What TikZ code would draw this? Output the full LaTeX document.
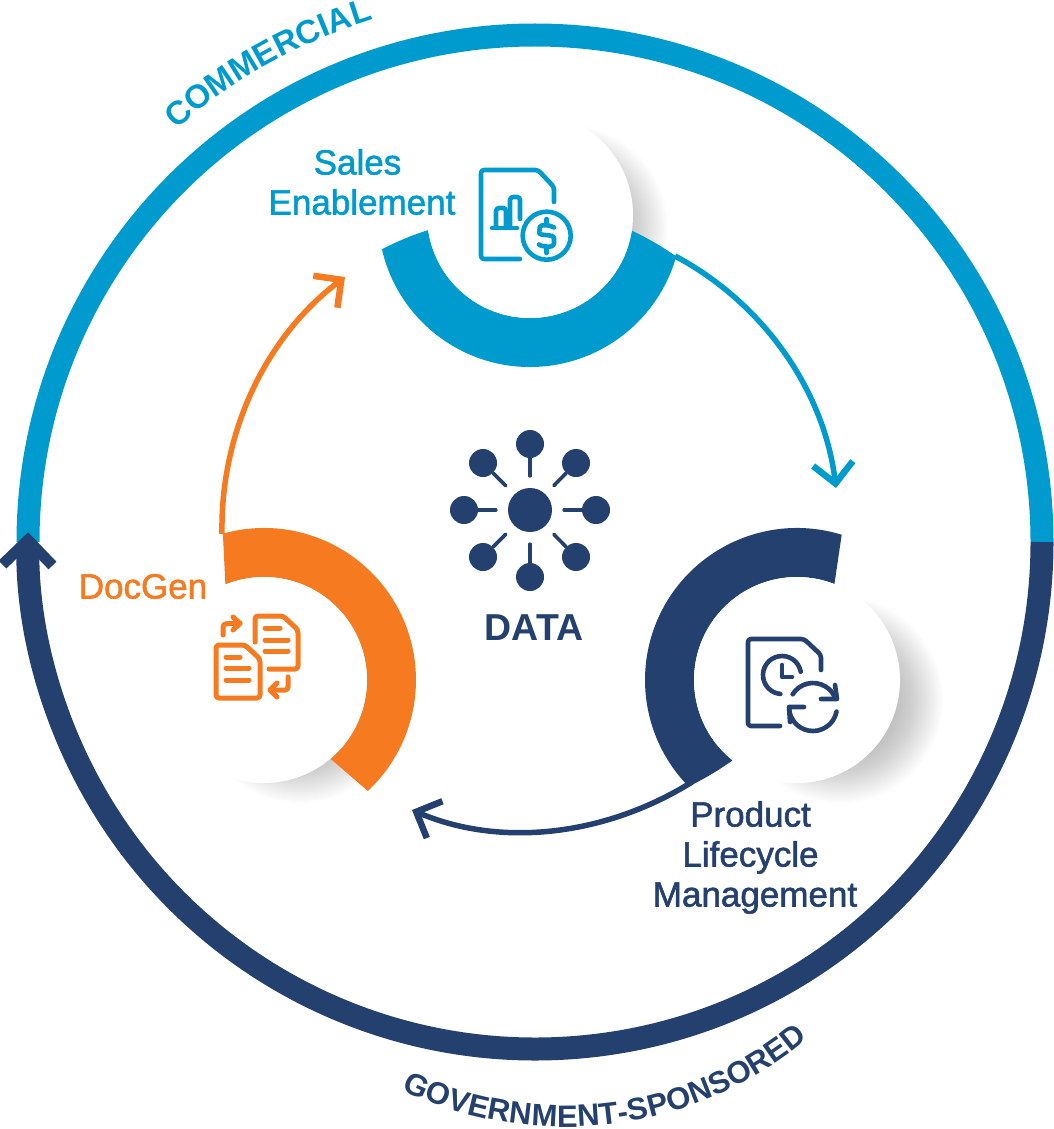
\documentclass[tikz,border=0pt]{standalone}
\usepackage{fontspec}
\setmainfont{Liberation Sans}
\newfontfamily\mediumfont[FakeBold=1.6]{Liberation Sans}
\usetikzlibrary{arrows.meta,decorations.text}

\definecolor{salesblue}{HTML}{009BCE}
\definecolor{plmnavy}{HTML}{24406E}
\definecolor{docorange}{HTML}{F57A20}

\tikzset{
	disk/.style={circle,fill=white,minimum size=206pt,inner sep=0pt},
	ring/.style={line width=23pt},
	ringtip/.style={-{Straight Barb[length=25pt,width=50pt,line width=11pt]}},
	flow/.style={line width=5.5pt,-{Straight Barb[length=20pt,width=40pt,line width=6.5pt]}},
	label/.style={font=\mediumfont\fontsize{35}{40}\selectfont,inner sep=0pt,anchor=base},
	icon/.style={line width=4.6pt,line cap=round,line join=round,rounded corners=3pt},
	dot/.style={circle,fill=plmnavy,inner sep=0pt,minimum size=28pt},
	spoke/.style={line width=3.6pt,line cap=round,plmnavy,shorten <=12pt},
}

\begin{document}
\begin{tikzpicture}[x=1pt,y=1pt]
	\useasboundingbox (0,0) rectangle (1054,-1129);
	\coordinate (ringc) at (535,-542);
	\coordinate (sales) at (530,-215);
	\coordinate (plm) at (797,-680);
	\coordinate (docgen) at (264,-680);
	
	% outer ring
	\draw[ring,salesblue] ([shift={(180:507)}]ringc) arc[start angle=180,end angle=0,radius=507];
	\draw[ring,ringtip,plmnavy] ([shift={(0:507)}]ringc) arc[start angle=0,end angle=-181.1,radius=507];
	\path[decorate,decoration={text along path,text align=fit to path,
		text={|\fontsize{33}{33}\selectfont\bfseries\color{salesblue}|COMMERCIAL}}]
		([shift={(131:547)}]ringc) arc[start angle=131,end angle=107.2,radius=547];
	\path[decorate,decoration={text along path,text align=fit to path,
		text={|\fontsize{31}{31}\selectfont\bfseries\color{plmnavy}|GOVERNMENT-SPONSORED}}]
		([shift={(244.5:380)}]565,-747) arc[start angle=244.5,end angle=309.8,radius=380];
	
	% soft shadows
	\foreach \r in {103,101,...,59}{
		\fill[black,opacity=.011] (565,-228) circle (\r);
		\fill[black,opacity=.011] (840,-700) circle (\r);
		\fill[black,opacity=.011] (300,-700) circle (\r);
	}
	
	% thick sectors
	\fill[salesblue] ([shift={(193:152)}]sales) arc[start angle=193,end angle=344.2,radius=152]
		to[bend right=4] ([shift={(351.3:103)}]sales) arc[start angle=351.3,end angle=188.4,radius=103] to[bend right=4] cycle;
	\fill[plmnavy] ([shift={(72.9:152)}]plm) arc[start angle=72.9,end angle=224.5,radius=152]
		to[bend right=4] ([shift={(231.3:103)}]plm) arc[start angle=231.3,end angle=68.7,radius=103] -- cycle;
	\fill[docorange] ([shift={(105.7:152)}]docgen) arc[start angle=105.7,end angle=-46.9,radius=152]
		-- ([shift={(-49.8:103)}]docgen) arc[start angle=-49.8,end angle=112,radius=103] -- cycle;
	
	\node[disk] (salesdisk) at (sales) {};
	\node[disk] (plmdisk) at (plm) {};
	\node[disk] (docgendisk) at (docgen) {};
	
	% arrows between the sectors
	\coordinate (salesout) at (675,-256);
	\coordinate (plmin) at (836,-488);
	\coordinate (plmout) at (692,-782);
	\coordinate (docgenin) at (412,-810);
	\coordinate (docgenout) at (222,-534);
	\coordinate (salesin) at (345,-277);
	\draw[flow,salesblue] (salesout) to[out=-28,in=97,looseness=.9] (plmin);
	\draw[flow,plmnavy] (plmout) to[out=212,in=337,looseness=.9] (docgenin);
	\draw[flow,docorange] (docgenout) to[out=91,in=217,looseness=.9] (salesin);
	
	% data hub
	\node[dot,minimum size=44pt] (hub) at (530,-510) {};
	\foreach \spot/\where in {n/{530,-444},ne/{576,-463},e/{596,-510},se/{576,-557},s/{530,-577},sw/{483,-557},w/{464,-510},nw/{483,-463}}{
		\node[dot] (sat\spot) at (\where) {};
		\draw[spoke] (hub) -- (sat\spot);
	}
	\node[font=\fontsize{37.5}{37.5}\selectfont\bfseries,text=plmnavy,inner sep=0pt] (data) at (534,-628) {DATA};
	
	% labels
	\node[label,text=salesblue] (saleslabel) at (357.5,-174.5) {Sales};
	\node[label,text=salesblue] (enablelabel) at (362,-214.5) {Enablement};
	\node[label,text=plmnavy] (productlabel) at (750.5,-826.5) {Product};
	\node[label,text=plmnavy] (lifelabel) at (750.5,-866.5) {Lifecycle};
	\node[label,text=plmnavy] (mgmtlabel) at (755,-906.5) {Management};
	\node[label,text=docorange] (docgenlabel) at (143,-598.5) {DocGen};
	
	% sales icon
	\begin{scope}[icon,salesblue]
		\draw (520,-259) -- (481,-259) -- (481,-170) -- (538,-170) -- (554,-187) -- (554,-202);
		\draw (492,-228) -- (517,-228);
		\draw (496,-228) -- (496,-208) -- (506,-208) -- (506,-228);
		\draw (510,-228) -- (510,-197) -- (520,-197) -- (520,-219);
		\draw (546.7,-235.7) circle (24);
		\draw (554,-227.5) .. controls (551,-225) and (540,-224) .. (539.5,-230) .. controls (539,-236) and (554,-234) .. (554,-241) .. controls (554,-248) and (542,-247) .. (539,-244.5);
		\draw (546.7,-219) -- (546.7,-224);
		\draw (546.7,-248) -- (546.7,-253);
	\end{scope}
	
	% document exchange icon
	\begin{scope}[icon,line width=5pt,docorange]
		\draw (255,-642) -- (255,-616) -- (283,-616) -- (298,-630) -- (298,-669) -- (269,-669);
		\draw (265,-628) -- (280,-628);
		\draw (265,-640) -- (288,-640);
		\draw (265,-651) -- (288,-651);
		\draw (216,-645) -- (245,-645) -- (260,-659) -- (260,-698) -- (216,-698) -- cycle;
		\draw (226,-657) -- (240,-657);
		\draw (226,-668) -- (249,-668);
		\draw (226,-680) -- (249,-680);
		\draw (223,-635) -- (223,-624) -- (240,-623);
		\draw[rounded corners=0pt] (233,-617) -- (240,-623.5) -- (233,-630);
		\draw (288,-677) -- (288,-690) -- (271,-690);
		\draw[rounded corners=0pt] (277,-683) -- (270,-690) -- (277,-697);
	\end{scope}
	
	% lifecycle icon
	\begin{scope}[icon,plmnavy]
		\draw (780,-726) -- (748,-726) -- (748,-639) -- (804,-639) -- (821,-655) -- (821,-670);
		\draw ([shift={(10:19)}]782,-675) arc[start angle=10,end angle=265,radius=19];
		\draw[rounded corners=0pt] (782,-665) -- (782,-677) -- (792,-677);
		\draw ([shift={(148:24)}]813,-707) arc[start angle=148,end angle=27,radius=24];
		\draw[rounded corners=0pt] (835,-685) -- (837,-699) -- (821,-699);
		\draw ([shift={(-11:24)}]813,-707) arc[start angle=-11,end angle=-175,radius=24];
		\draw[rounded corners=0pt] (790,-722) -- (789,-707) -- (804,-707);
	\end{scope}
\end{tikzpicture}
\end{document}
